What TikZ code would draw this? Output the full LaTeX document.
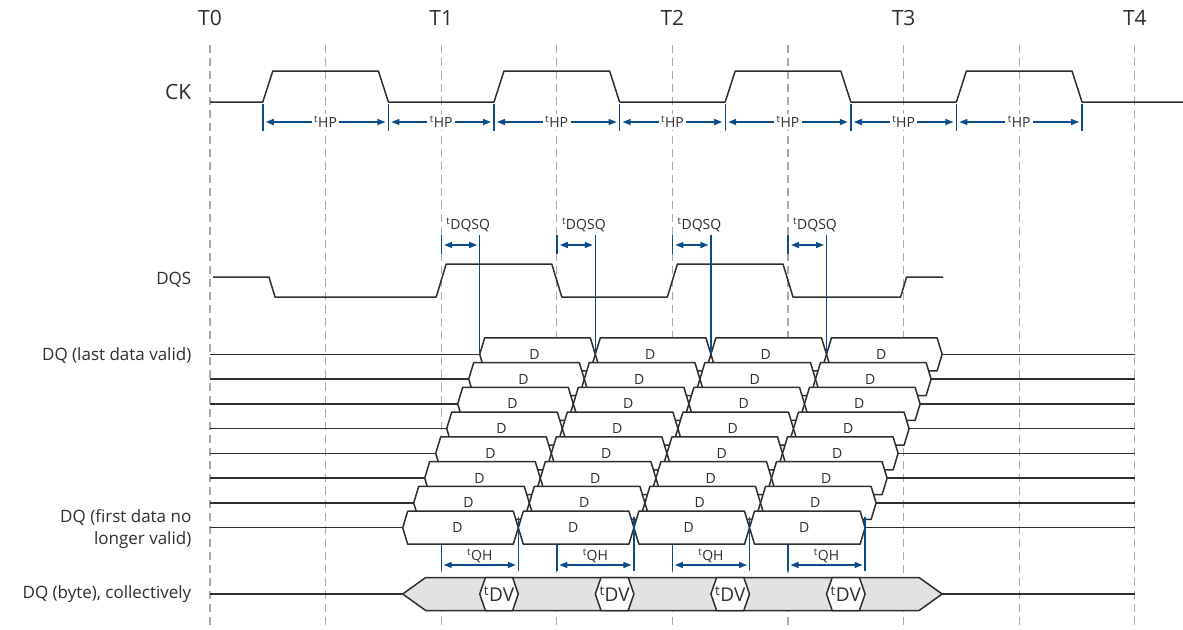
\documentclass[tikz,border=0pt]{standalone}
\usepackage{fontspec}
\setmainfont{Open Sans}
\usetikzlibrary{arrows.meta}
\definecolor{sigline}{HTML}{2E2E2E}
\definecolor{timblue}{HTML}{0D4C8A}
\definecolor{gridgray}{HTML}{A9A9A9}
\definecolor{bytegray}{HTML}{E1E2E4}
\begin{document}
\begin{tikzpicture}[x=1pt,y=-1pt,>={Triangle[length=8pt,width=6pt]},line join=round]
	\tikzset{every node/.style={inner sep=0pt,text=sigline},
		grid/.style={gridgray,line width=1.1pt,dash pattern=on 8pt off 5pt},
		sig/.style={sigline,line width=1.5pt},
		tim/.style={timblue,line width=1.4pt},
		dbox/.style={sig,fill=white},
		big/.style={font=\fontsize{21}{24}\selectfont},
		lbl/.style={font=\fontsize{17}{22}\selectfont,anchor=east,align=right},
		tlbl/.style={font=\fontsize{14}{16}\selectfont},
		dlbl/.style={font=\fontsize{14}{16}\selectfont}}
	\def\xo{210}\def\dx{115.6}
	\useasboundingbox (0,0) rectangle (1183,629);
	% time grid
	\foreach \k in {0,...,8}
		\draw[grid] ({\xo+\dx*\k},45)--({\xo+\dx*\k},629);
	\foreach \k/\t in {0/T0,2/T1,4/T2,6/T3,8/T4}
		\node[big] (\t) at ({\xo+\dx*\k},18) {\t};
	% CK
	\node[big,anchor=east] (ck) at (191.5,92) {CK};
	\draw[sig] (\xo,102) \foreach \k in {0.5,2.5,4.5,6.5}{
		-- ({\xo+\dx*\k-5},102) -- ({\xo+\dx*\k+5},71)
		-- ({\xo+\dx*(\k+1)-5},71) -- ({\xo+\dx*(\k+1)+5},102)} -- (1183,102);
	\foreach \k/\s [count=\i] in {0.5/-5,1.5/5,2.5/-5,3.5/5,4.5/-5,5.5/5,6.5/-5,7.5/5}{
		\coordinate (hp\i) at ({\xo+\dx*\k+\s},122);
		\draw[tim] (hp\i) ++(0,-18) -- ++(0,27);}
	\foreach \i [evaluate=\i as \n using int(\i+1)] in {1,...,7}
		\draw[tim,<->,shorten <=3pt,shorten >=3pt] (hp\i) -- node[tlbl,fill=white,inner sep=2.5pt] (thp\i) {\textsuperscript{t}HP} (hp\n);
	% DQS
	\node[lbl] (dqs) at (191.5,280) {DQS};
	\draw[sig] (213,277) -- (269,277) -- (275,297) \foreach \k in {2,4}{
		-- ({\xo+\dx*\k-5},297) -- ({\xo+\dx*\k+5},264)
		-- ({\xo+\dx*(\k+1)-5},264) -- ({\xo+\dx*(\k+1)+5},297)}
		-- ({\xo+\dx*6-3},297) -- ({\xo+\dx*6+3},277) -- (943,277);
	% DQ lanes
	\node[lbl] (dqlast) at (191.5,355) {DQ (last data valid)};
	\node[lbl] (dqfirst) at (191.5,529) {DQ (first data no\\longer valid)};
	\foreach \r in {0,...,7}{
		\pgfmathsetmacro\y{354.3+24.77*\r}
		\pgfmathsetmacro\s{479.7-11*\r}
		\draw[sig] (\xo,\y) -- (\s,\y) ({\s+4*\dx},\y) -- (1135,\y);
		\foreach \b in {0,...,3}{
			\draw[dbox] ({\s+\dx*\b},\y) -- ++(5,-16.5) -- ++(\dx-10,0) -- ++(5,16.5)
				-- ++(-5,16.5) -- ++(-\dx+10,0) -- cycle;
			\node[dlbl] (d\r\b) at ({\s+\dx*\b+\dx/2-3},\y) {D};}}
	% tDQSQ
	\foreach \k in {2,...,5}{
		\pgfmathsetmacro\x{\xo+\dx*\k}
		\coordinate (qa\k) at (\x,245);
		\coordinate (qb\k) at (\x+38.5,245);
		\draw[tim] (qa\k) ++(0,-10) -- ++(0,19);
		\draw[tim] (qb\k) ++(0,-10) -- (\x+38.5,354.3);
		\draw[tim,<->,shorten <=3pt,shorten >=2.5pt] (qa\k) -- (qb\k);
		\node[tlbl,anchor=west] (tq\k) at (\x+5,225) {\textsuperscript{t}DQSQ};}
	% tQH
	\foreach \k [count=\b from 0] in {2,...,5}{
		\pgfmathsetmacro\x{\xo+\dx*\k}
		\pgfmathsetmacro\e{402.7+\dx*(\b+1)}
		\coordinate (ha\k) at (\x,565);
		\coordinate (hb\k) at (\e,565);
		\draw[tim] (ha\k) ++(0,-20) -- ++(0,26);
		\draw[tim] (hb\k) ++(0,-48.3) -- ++(0,54);
		\draw[tim,<->,shorten <=2.5pt,shorten >=2.5pt] (ha\k) -- (hb\k);
		\node[tlbl] (th\k) at ({(\x+\e)/2},556) {\textsuperscript{t}QH};}
	% DQ byte
	\node[lbl] (dqb) at (191.5,594) {DQ (byte), collectively};
	\draw[sig] (\xo,594) -- (402.7,594) (942.1,594) -- (1135,594);
	\draw[sig,fill=bytegray] (402.7,594) -- (425.7,577.5) -- (919.1,577.5) -- (942.1,594)
		-- (919.1,610.5) -- (425.7,610.5) -- cycle;
	\foreach \b in {0,...,3}{
		\pgfmathsetmacro\a{479.7+\dx*\b}
		\draw[dbox] (\a,594) -- ++(5.7,-16.5) -- ++(27.2,0) -- ++(5.7,16.5)
			-- ++(-5.7,16.5) -- ++(-27.2,0) -- cycle;
		\node[font=\fontsize{19}{21}\selectfont] (dv\b) at (\a+19.3,594) {\textsuperscript{t}DV};}
\end{tikzpicture}
\end{document}
